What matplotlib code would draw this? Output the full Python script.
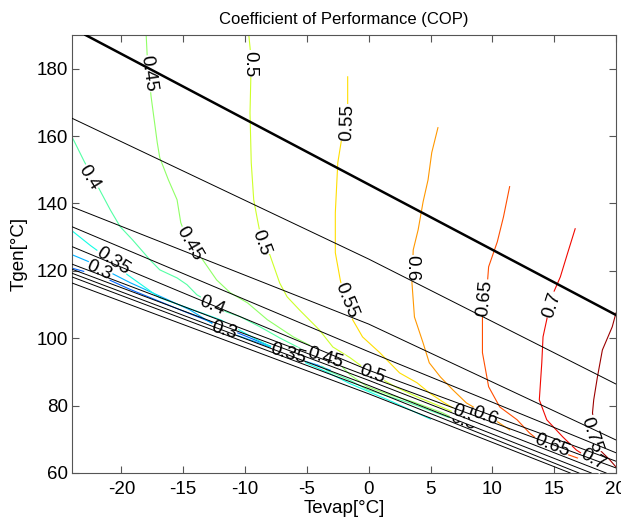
import matplotlib
matplotlib.use("Agg")
import matplotlib.pyplot as plt
import numpy as np

plt.rcParams['font.family'] = ['Liberation Sans', 'DejaVu Sans']
plt.rcParams['axes.unicode_minus'] = False

# ---- data ----
# black reference lines: (x, y) vertices
thick_line_x = [-22.9, 20.0]
thick_line_y = [190.0, 106.9]

thin_lines_x = [
    [-24, 0, 20],
    [-24, 0, 20],
    [-24, 0, 20],
    [-24, 0, 20],
    [-24, 0, 20],
    [-24, 0, 19.2],
    [-24, 0, 18.0],
    [-24, 0, 17.0],
    [-24, 0, 16.3],
]
thin_lines_y = [
    [165.3, 123.5, 86.4],
    [139.0, 104.2, 69.8],
    [133.1, 96.0, 66.0],
    [127.2, 90.5, 63.5],
    [122.0, 88.6, 61.5],
    [120.5, 87.5, 60.0],
    [119.3, 86.0, 60.0],
    [118.2, 85.0, 60.0],
    [116.4, 83.5, 60.0],
]

# COP contour lines
cop_levels = [0.25, 0.3, 0.35, 0.4, 0.45, 0.5, 0.55, 0.6, 0.65, 0.7, 0.75]
cop_x = {
    0.25: [-24.0, -21.7, -19.3, -15.3, -11.2, -7.2, -4.0],
    0.3: [-24.0, -22.5, -20.9, -19.3, -16.9, -14.5, -11.7, -8.8, -5.6, -3.1],
    0.35: [-24.0, -22.5, -21.0, -19.5, -16.9, -12.0, -9.0, -6.6, -3.4, -1.5, 2.0, 5.0],
    0.4: [-24.0, -23.0, -21.9, -20.9, -20.1, -19.1, -17.7, -16.9, -15.5, -14.7, -13.9, -11.5, -10.4, -8.8,
          -7.2, -5.6, -4.5, -3.4, -1.5, -0.1, 3.3, 6.6],
    0.45: [-18.0, -17.9, -17.6, -17.1, -16.9, -16.2, -15.5, -15.2, -14.5, -13.6, -12.3, -11.2, -9.8, -8.2,
           -6.1, -4.5, -2.7, -1.5, -0.1, 1.7, 3.6, 6.0, 7.1],
    0.5: [-9.7, -9.5, -9.6, -9.5, -9.3, -9.0, -8.6, -8.0, -7.2, -6.6, -5.6, -4.0, -2.9, -1.5, -0.5, 0.9,
          2.3, 4.1, 5.5, 7.4],
    0.55: [-1.7, -1.7, -2.2, -2.5, -2.7, -2.7, -2.3, -1.9, -1.3, -0.5, 0.9, 2.5, 3.9, 4.9, 6.0, 7.1, 8.6],
    0.6: [5.6, 5.1, 4.8, 4.4, 4.0, 3.6, 3.5, 3.7, 4.4, 4.9, 5.8, 6.8, 7.9, 9.8, 11.4],
    0.65: [11.4, 10.9, 10.4, 9.7, 9.6, 9.2, 9.2, 9.7, 10.6, 12.0, 13.0, 14.4, 17.3, 18.7],
    0.7: [16.7, 16.1, 15.5, 14.8, 14.4, 14.1, 14.0, 13.8, 14.4, 15.7, 16.8, 18.9],
    0.75: [20.0, 19.7, 18.9, 18.5, 18.2, 18.1, 18.7, 19.5, 20.0],
}
cop_y = {
    0.25: [120.8, 118.5, 114.5, 108.5, 102.5, 96.5, 92.0],
    0.3: [124.8, 122.5, 119.5, 116.5, 112.5, 108.5, 102.2, 98.5, 94.0, 90.5],
    0.35: [131.9, 127.5, 123.5, 118.8, 112.0, 105.5, 99.5, 95.1, 90.0, 86.5, 81.0, 76.0],
    0.4: [159.8, 152.4, 145.0, 138.1, 133.1, 129.2, 123.3, 120.3, 117.9, 115.9, 112.9, 107.8, 106.4, 103.4,
          100.1, 97.1, 94.5, 90.5, 87.5, 84.7, 80.8, 76.3],
    0.45: [190.1, 182.7, 171.7, 158.0, 153.6, 147.0, 141.1, 134.3, 127.7, 124.2, 117.3, 113.5, 110.5, 105.5,
           100.4, 97.4, 93.6, 89.1, 85.6, 83.2, 81.1, 77.8, 75.8],
    0.5: [190.1, 182.7, 166.9, 152.1, 141.1, 135.2, 127.7, 124.8, 116.4, 112.3, 108.4, 102.5, 97.4, 94.2,
          91.5, 88.2, 85.3, 82.3, 80.2, 77.2],
    0.55: [177.6, 167.8, 158.9, 152.1, 137.2, 125.4, 117.3, 111.4, 105.5, 100.4, 95.7, 89.7, 86.8, 83.8,
           81.1, 78.7, 75.5],
    0.6: [162.5, 155.1, 147.0, 140.5, 132.2, 126.2, 116.4, 106.3, 98.6, 92.7, 88.5, 84.7, 80.8, 76.7, 72.8],
    0.65: [145.0, 136.0, 128.6, 121.2, 116.4, 106.3, 95.7, 85.6, 79.6, 75.8, 71.9, 67.7, 63.9, 61.5],
    0.7: [132.5, 125.4, 118.2, 112.3, 105.5, 100.4, 92.7, 81.7, 75.8, 70.7, 66.8, 61.8],
    0.75: [107.5, 103.4, 96.5, 88.5, 81.7, 77.8, 66.8, 63.9, 61.8],
}

# contour label texts and where they sit (x, y, rotation)
label_text = ['0.45', '0.5', '0.55', '0.4', '0.45', '0.5', '0.6', '0.55', '0.65', '0.7',
              '0.35', '0.3', '0.4', '0.3', '0.35', '0.45', '0.5', '0.5', '0.55', '0.6',
              '0.65', '0.75', '0.7']
label_x = [-17.8, -9.6, -1.7, -22.6, -14.5, -8.7, 3.5, -1.8, 9.4, 14.8,
           -20.7, -21.8, -12.7, -11.7, -6.5, -3.5, 0.3, 7.6, 8.2, 9.4,
           14.8, 18.0, 18.1]
label_y = [178.5, 181.5, 164.0, 147.6, 128.0, 128.3, 120.9, 111.1, 112.0, 109.9,
           123.0, 120.0, 109.6, 102.2, 95.4, 94.2, 89.4, 75.5, 77.0, 76.8,
           68.0, 71.3, 63.9]
label_rot = [-82, -90, 88, -58, -60, -70, -90, -68, 84, 72,
             -33, -25, -22, -17, -17, -17, -20, -20, -20, -20,
             -22, -72, -30]

title_text = 'Coefficient of Performance (COP)'
xlabel_text = 'Tevap[°C]'
ylabel_text = 'Tgen[°C]'
xticks = [-20, -15, -10, -5, 0, 5, 10, 15, 20]
yticks = [60, 80, 100, 120, 140, 160, 180]

# ---- drawing ----
fig = plt.figure(figsize=(6.21, 5.22), dpi=100)
ax = fig.add_axes([0.1159, 0.0939, 0.876, 0.839])

cmap = plt.get_cmap('jet')
norm = matplotlib.colors.Normalize(vmin=0.1, vmax=0.767)

for lev in cop_levels:
    ax.plot(cop_x[lev], cop_y[lev], color=cmap(norm(lev)), lw=0.8, zorder=2)

for t, x, y, r in zip(label_text, label_x, label_y, label_rot):
    ax.text(x, y, t, rotation=r, ha='center', va='center', fontsize=13.5,
            rotation_mode='anchor', zorder=3,
            bbox=dict(facecolor='white', edgecolor='none', pad=0.2))

for xs, ys in zip(thin_lines_x, thin_lines_y):
    ax.plot(xs, ys, color='black', lw=0.7, zorder=4)
ax.plot(thick_line_x, thick_line_y, color='black', lw=1.8, zorder=4)

ax.set_xlim(-24, 20)
ax.set_ylim(60, 190)
ax.set_xticks(xticks)
ax.set_yticks(yticks)
ax.tick_params(direction='in', top=True, right=True, length=5, labelsize=13.5,
               color='#555555')
ax.tick_params(axis='y', pad=3)
ax.tick_params(axis='x', pad=6)
for s in ax.spines.values():
    s.set_color('#555555')
ax.set_title(title_text, fontsize=12, pad=8)
ax.set_xlabel(xlabel_text, fontsize=13.5, labelpad=1)
ax.set_ylabel(ylabel_text, fontsize=13.5, labelpad=6)

fig.savefig('out.png', dpi=100)
